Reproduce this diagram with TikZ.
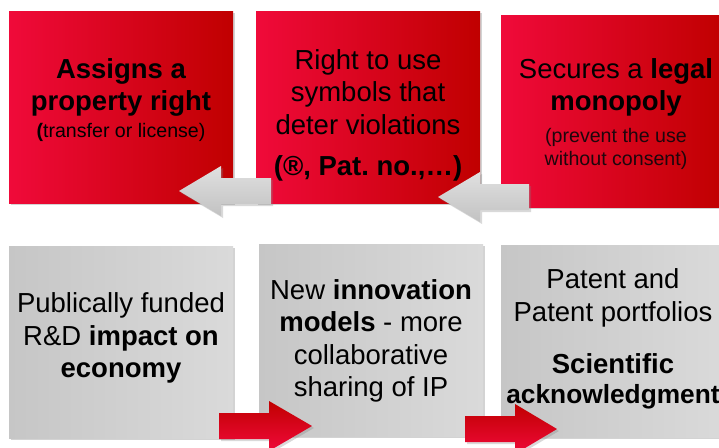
\documentclass[tikz,border=0pt]{standalone}
\usepackage{fontspec}
\setmainfont{Liberation Sans}
\usetikzlibrary{shadows}
\definecolor{redL}{RGB}{240,10,58}
\definecolor{redR}{RGB}{192,0,0}
\definecolor{greyL}{RGB}{198,198,198}
\definecolor{greyR}{RGB}{218,218,218}
\definecolor{arrowT}{RGB}{224,224,224}
\definecolor{arrowB}{RGB}{194,194,194}
\definecolor{subtext}{RGB}{30,6,12}
\newcommand\subsize{\fontsize{19.6}{23.5}\selectfont}
\frenchspacing
\begin{document}
\begin{tikzpicture}[x=1pt, y=-1pt, line join=round,
	card/.style={minimum width=224pt, minimum height=192pt, inner sep=0pt,
		drop shadow={shadow xshift=2pt, shadow yshift=-2pt, opacity=0.35}},
	redcard/.style={card, left color=redL, right color=redR},
	greycard/.style={card, left color=greyL, right color=greyR},
	txt/.style={text width=230pt, align=flush center, inner sep=0pt,
		font=\fontsize{27.5}{32.5}\selectfont},
	shadowed/.style={drop shadow={shadow xshift=2pt, shadow yshift=-2pt, opacity=0.3}},
	greyarrow/.style={shadowed, top color=arrowT, bottom color=arrowB},
	redarrow/.style={shadowed, top color=redR, bottom color=redL}]
	\useasboundingbox (0,0) rectangle (719,447);
	% top row: legal side
	\node[redcard] (b1) at (121,107) {};
	\node[redcard] (b2) at (368,107) {};
	\node[redcard] (b3) at (613,111) {};
	% bottom row: research side
	\node[greycard] (b4) at (121,342) {};
	\node[greycard] (b5) at (371,340) {};
	\node[greycard] (b6) at (613,341) {};
	\node[txt] (t1) at ([yshift=7pt]b1.center)
		{\bfseries Assigns a\\property right\par
		{\fontsize{19.6}{27}\selectfont\textbf{(}\mdseries transfer or license)\par}};
	\node[txt] (t2) at ([yshift=-8pt]b2.center)
		{Right to use\\symbols that\\deter violations\par\vspace{8.5pt}
		{\bfseries (®, Pat. no.,…)\par}};
	\node[txt, text=black] (t3) at ([xshift=3pt,yshift=-3pt]b3.center)
		{Secures a \textbf{legal}\\\textbf{monopoly}\par\vspace{8pt}
		{\subsize\color{subtext}(prevent the use\\without consent)\par}};
	\node[txt] (t4) at ([yshift=4pt]b4.center)
		{Publically funded\\R\&D \textbf{impact on}\\\textbf{economy}};
	\node[txt] (t5) at ([yshift=-1pt]b5.center)
		{New \textbf{innovation}\\\textbf{models} - more\\collaborative\\sharing of IP};
	\node[txt] (t6) at ([yshift=2pt]b6.center)
		{Patent and\\Patent portfolios\par\vspace{22pt}
		{\bfseries\fontsize{27.5}{30}\selectfont Scientific\\
		\fontsize{26.3}{30}\selectfont acknowledgment\par}};
	% block arrows: tail x / head x / tip x / centre y
	\foreach \tx/\hx/\px/\cy in {271/221/179/191, 529/480/438/197}
		\path[greyarrow] (\tx,\cy-13) -- (\hx,\cy-13) -- (\hx,\cy-25) -- (\px,\cy)
			-- (\hx,\cy+25) -- (\hx,\cy+13) -- (\tx,\cy+13) -- cycle;
	\foreach \tx/\hx/\px/\cy in {219/269/312/426, 465/515/557/429}
		\path[redarrow] (\tx,\cy-13) -- (\hx,\cy-13) -- (\hx,\cy-25) -- (\px,\cy)
			-- (\hx,\cy+25) -- (\hx,\cy+13) -- (\tx,\cy+13) -- cycle;
\end{tikzpicture}
\end{document}
